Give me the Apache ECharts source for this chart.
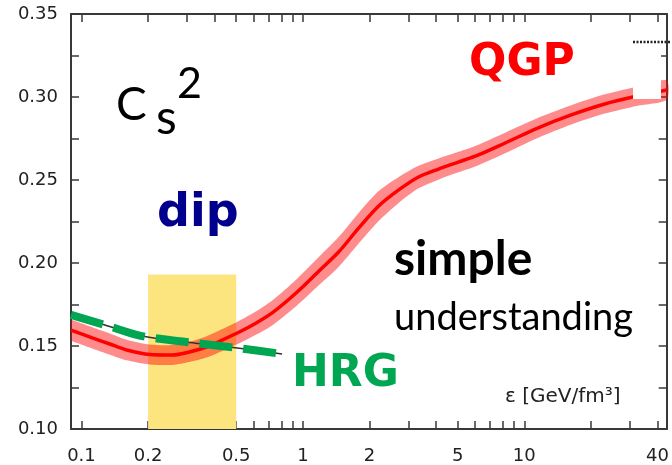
<!DOCTYPE html>
<html>
<head>
<meta charset="utf-8">
<script src="https://cdn.jsdelivr.net/npm/echarts@6/dist/echarts.min.js"></script>
<style>
html, body { margin: 0; padding: 0; background: #fff; }
#chart { width: 672px; height: 465px; }
</style>
</head>
<body>
<div id="chart"></div>
<script>
// lattice band: energy density (GeV/fm^3), cs^2 centre and half width
var qgpEnergy = [0.0897, 0.1127, 0.1343, 0.1602, 0.2033, 0.258, 0.3077, 0.3669, 0.433, 0.5164, 0.616, 0.7269, 0.932, 1.183,
    1.45, 1.79, 2.20, 2.71, 3.33, 4.10, 5.04, 6.21, 8.20, 11.5, 16.3, 23.1, 32.5, 44.0];
var qgpCs2 = [0.1596, 0.1548, 0.1512, 0.1476, 0.1449, 0.1446, 0.1464, 0.1494, 0.1536, 0.1584, 0.1639, 0.1699, 0.1819, 0.1952,
    0.2066, 0.2211, 0.2343, 0.2440, 0.2518, 0.2566, 0.2608, 0.2651, 0.2723, 0.2813, 0.2892, 0.2958, 0.3006, 0.3042];
var qgpErr = [0.0064, 0.0064, 0.0064, 0.0062, 0.006, 0.006, 0.0061, 0.0064, 0.0066, 0.0068, 0.007, 0.0075, 0.008, 0.0085,
    0.009, 0.0092, 0.009, 0.0078, 0.0068, 0.0064, 0.0062, 0.0062, 0.0062, 0.006, 0.0058, 0.0058, 0.0058, 0.0058];

// hadron resonance gas
var hrgEnergy = [0.0897, 0.1276, 0.1833, 0.25, 0.341, 0.5058, 0.806];
var hrgCs2 = [0.1687, 0.1627, 0.1563, 0.1536, 0.1515, 0.1488, 0.1452];

// "dip" region
var dipRange = [0.2, 0.5];
var dipTop = 0.193;

var xRange = [0.0897, 44];
var xTicks = [0.1, 0.2, 0.3, 0.4, 0.5, 0.6, 0.7, 0.8, 0.9, 1, 2, 3, 4, 5, 6, 7, 8, 9, 10, 20, 30, 40];
var xLabels = [0.1, 0.2, 0.5, 1, 2, 5, 10, 40];
var yLabels = [0.10, 0.15, 0.20, 0.25, 0.30, 0.35];

function lg(v) { return Math.log10(v) }
function pairs(xs, ys) {
    var out = []
    for (var i = 0; i < xs.length; i++) out.push([lg(xs[i]), ys[i]])
    return out
}

var frame = '#383838'
var tickFont = { fontFamily: 'DejaVu Sans', fontSize: 18, color: '#222' }

function xAxisOf(pos, labels) {
    return {
        type: 'value', position: pos,
        min: lg(xRange[0]), max: lg(xRange[1]),
        axisLine: { show: true, onZero: false, lineStyle: { color: frame, width: 2 } },
        axisTick: { show: true, inside: true, length: 8, customValues: xTicks.map(lg), lineStyle: { color: frame, width: 1.5 } },
        axisLabel: Object.assign({
            show: labels, margin: 18, customValues: xLabels.map(lg),
            formatter: function (v) { return String(parseFloat(Math.pow(10, v).toPrecision(2))) }
        }, tickFont),
        splitLine: { show: false }
    }
}
function yAxisOf(pos, labels) {
    return {
        type: 'value', position: pos,
        min: 0.1, max: 0.35, interval: 0.025,
        axisLine: { show: true, onZero: false, lineStyle: { color: frame, width: 2 } },
        axisTick: { show: true, inside: true, length: 8, lineStyle: { color: frame, width: 1.5 } },
        axisLabel: Object.assign({
            show: labels, margin: 13, customValues: yLabels,
            formatter: function (v) { return v.toFixed(2) }
        }, tickFont),
        splitLine: { show: false }
    }
}

// error band as one polygon through the axis scales
function renderBand(params, api) {
    if (params.dataIndex !== 0) return
    var up = [], lo = []
    for (var i = 0; i < qgpEnergy.length; i++) {
        up.push(api.coord([lg(qgpEnergy[i]), qgpCs2[i] + qgpErr[i]]))
        lo.push(api.coord([lg(qgpEnergy[i]), qgpCs2[i] - qgpErr[i]]))
    }
    return {
        type: 'group',
        children: [
            { type: 'polyline', shape: { points: up.concat(lo.reverse()), smooth: 0.25 }, style: { fill: 'rgba(255,0,0,0.45)', stroke: null } }
        ]
    }
}

var myChart = echarts.init(document.getElementById('chart'))
var option = {
    animation: false,
    grid: { left: 71, right: 3, top: 14, bottom: 36 },
    xAxis: [xAxisOf('bottom', true), xAxisOf('top', false)],
    yAxis: [yAxisOf('left', true), yAxisOf('right', false)],
    series: [
        {
            name: 'dip', type: 'line', z: 1, symbol: 'none', silent: true,
            lineStyle: { opacity: 0 }, data: pairs(dipRange, [0.1, 0.1]),
            markArea: {
                silent: true,
                itemStyle: { color: '#fce47f' },
                data: [[{ xAxis: lg(dipRange[0]), yAxis: 0.1 }, { xAxis: lg(dipRange[1]), yAxis: dipTop }]]
            }
        },
        {
            name: 'band', type: 'custom', z: 2, silent: true,
            renderItem: renderBand, data: pairs(qgpEnergy, qgpCs2)
        },
        {
            name: 'QGP', type: 'line', z: 3, smooth: 0.3, symbol: 'none',
            lineStyle: { color: '#ff0000', width: 3.5 }, data: pairs(qgpEnergy, qgpCs2)
        },
        {
            name: 'HRG-line', type: 'line', z: 4, smooth: 0.3, symbol: 'none',
            lineStyle: { color: '#333', width: 1.5 }, data: pairs(hrgEnergy, hrgCs2)
        },
        {
            name: 'HRG', type: 'line', z: 5, smooth: 0.3, symbol: 'none',
            lineStyle: { color: '#00a651', width: 8, type: [33, 11], cap: 'butt' }, data: pairs(hrgEnergy, hrgCs2)
        }
    ],
    graphic: [
        // pasted-over corner
        { type: 'rect', z: 50, shape: { x: 633, y: 38, width: 28, height: 61 }, style: { fill: '#fff' } },
        { type: 'line', z: 51, shape: { x1: 633, y1: 42, x2: 670, y2: 42 }, style: { stroke: '#222', lineWidth: 2.5, lineDash: [2, 1.5] } },
        { type: 'text', z: 60, x: 116, y: 105, style: { text: 'C', font: '46px Lato', fill: '#000', align: 'left', verticalAlign: 'middle' } },
        { type: 'text', z: 60, x: 156, y: 119, style: { text: 's', font: '48px Lato', fill: '#000', align: 'left', verticalAlign: 'middle' } },
        { type: 'text', z: 60, x: 177, y: 84, style: { text: '2', font: '43px Lato', fill: '#000', align: 'left', verticalAlign: 'middle' } },
        { type: 'text', z: 60, x: 157, y: 214, style: { text: 'dip', font: 'bold 46px "DejaVu Sans"', fill: '#00008c', align: 'left', verticalAlign: 'middle' } },
        { type: 'text', z: 60, x: 469, y: 64, style: { text: 'QGP', font: 'bold 44px "DejaVu Sans"', fill: '#ff0000', align: 'left', verticalAlign: 'middle' } },
        { type: 'text', z: 60, x: 292, y: 375, style: { text: 'HRG', font: 'bold 44px "DejaVu Sans"', fill: '#00a651', align: 'left', verticalAlign: 'middle' } },
        { type: 'text', z: 60, x: 394, y: 260, style: { text: 'simple', font: 'bold 48px Lato', fill: '#000', align: 'left', verticalAlign: 'middle' } },
        { type: 'text', z: 60, x: 394, y: 318, style: { text: 'understanding', font: '38px Lato', fill: '#000', align: 'left', verticalAlign: 'middle' } },
        { type: 'text', z: 60, x: 505, y: 397, style: { text: 'ε [GeV/fm³]', font: '20px "DejaVu Sans"', fill: '#222', align: 'left', verticalAlign: 'middle' } }
    ]
}
myChart.setOption(option)
</script>
</body>
</html>
